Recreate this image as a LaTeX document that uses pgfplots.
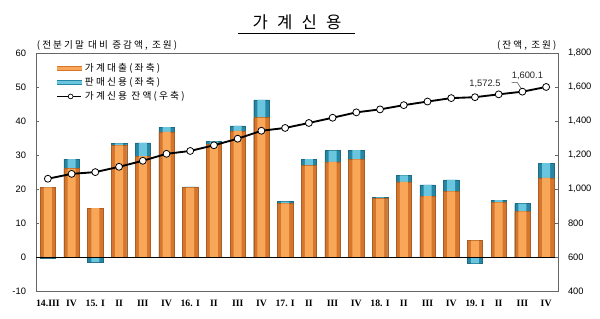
\documentclass[border=0pt]{standalone}
\usepackage{fontspec}
\setmainfont{Liberation Sans}
\newfontfamily\kr[LetterSpace=22]{Noto Sans CJK KR}
\newfontfamily\krt{Noto Sans CJK KR}
\newfontfamily\rom{Liberation Serif}
\usepackage{pgfplots}
\usepackage{pgfplotstable}
\pgfplotsset{compat=1.18}
\definecolor{orgO}{RGB}{214,118,45}
\definecolor{orgI}{RGB}{248,166,88}
\definecolor{bluO}{RGB}{38,135,165}
\definecolor{bluI}{RGB}{105,198,222}
\pgfplotstableread{
x org tot bal
0 20.5 -0.3 1060.3
1 26.0 28.8 1089.0
2 14.4 -1.5 1099.3
3 32.8 33.4 1130.5
4 29.7 33.6 1166.0
5 36.8 38.2 1207.0
6 20.4 20.6 1223.7
7 33.1 34.0 1257.3
8 37.1 38.6 1295.8
9 41.0 46.2 1342.5
10 15.8 16.3 1359.1
11 26.9 28.8 1388.3
12 28.0 31.3 1419.1
13 28.7 31.4 1450.8
14 17.2 17.5 1468.2
15 22.1 24.0 1493.2
16 17.9 21.2 1514.4
17 19.3 22.7 1534.6
18 4.8 -1.9 1540.0
19 16.1 16.7 1556.7
20 13.4 15.7 1572.5
21 23.3 27.6 1600.1
}\data
\begin{document}
\begin{tikzpicture}
\pgfplotsset{
  base/.style={
    scale only axis, width=391.5pt, height=178.5pt,
    xmin=-0.5, xmax=21.5,
    /pgf/number format/assume math mode=true,
    tick label style={font=\fontsize{7}{8}\selectfont},
    tick align=inside, major tick length=2.5pt,
    axis line style={black!60}, tick style={black!60},
  }
}
\begin{axis}[base,
  ymin=-10, ymax=60, ytick={-10,0,...,60},
  ytick pos=left,
  yticklabel style={xshift=-4pt},
  xtick={0,...,21},
  xticklabels={14.III,IV,15. I,II,III,IV,16. I,II,III,IV,17. I,II,III,IV,18. I,II,III,IV,19. I,II,III,IV},
  xticklabel style={font=\rom\bfseries\fontsize{7.3}{8}\selectfont, yshift=-3pt},
  xtick style={draw=none},
]
\addplot[ybar, bar shift=0pt, bar width=11.5pt, draw=bluO!80!black, line width=0.3pt, fill=bluO] table[x=x, y=tot] {\data};
\addplot[ybar, bar shift=0pt, bar width=6pt, draw=none, fill=bluI] table[x=x, y=tot] {\data};
\addplot[ybar, bar shift=0pt, bar width=11.5pt, draw=orgO!80!black, line width=0.3pt, fill=orgO] table[x=x, y=org] {\data};
\addplot[ybar, bar shift=0pt, bar width=6pt, draw=none, fill=orgI] table[x=x, y=org] {\data};
\draw[black, line width=0.6pt] (axis cs:-0.5,0) -- (axis cs:21.5,0);
\coordinate (ll) at (rel axis cs:0,0);
\coordinate (ur) at (rel axis cs:1,1);
\end{axis}
\begin{axis}[base,
  ymin=400, ymax=1800, ytick={400,600,...,1800},
  axis y line*=right, axis x line=none,
  yticklabel style={xshift=4pt},
  /pgf/number format/1000 sep={,},
  legend style={at={(0.036,0.975)}, anchor=north west, draw=none, fill=none,
    font=\kr\fontsize{7.3}{8}\selectfont, row sep=-1pt, inner sep=1pt},
  legend cell align=left,
]
\addlegendimage{legend image code/.code={\fill[orgO] (0pt,-1.7pt) rectangle (18pt,1.7pt); \fill[orgI] (0pt,-0.6pt) rectangle (18pt,0.6pt);}}
\addlegendentry{가계대출(좌축)}
\addlegendimage{legend image code/.code={\fill[bluO] (0pt,-1.7pt) rectangle (18pt,1.7pt); \fill[bluI] (0pt,-0.6pt) rectangle (18pt,0.6pt);}}
\addlegendentry{판매신용(좌축)}
\addplot[black, line width=1.4pt, mark=*, mark size=2.6pt,
  mark options={fill=white, draw=black, line width=0.6pt},
  legend image code/.code={\draw[black, line width=1.4pt] (0pt,0pt) -- (18pt,0pt); \draw[black, fill=white, line width=0.5pt] (10pt,0pt) circle (1.8pt);}]
  table[x=x, y=bal] {\data};
\addlegendentry{가계신용 잔액(우축)}
\node[font=\fontsize{7}{8}\selectfont, text=black!85] at (axis cs:18.42,1617) {1,572.5};
\node[font=\fontsize{7}{8}\selectfont, text=black!85] at (axis cs:20.21,1667) {1,600.1};
\draw[black!70, line width=0.4pt] (axis cs:19.55,1627) -- (axis cs:19.78,1627) -- (axis cs:20.0,1580);
\end{axis}
\node[font=\kr\fontsize{7.2}{8}\selectfont, anchor=south west, inner sep=0pt] at ([shift={(0.5pt,2pt)}]ll |- ur) {(전분기말 대비 증감액, 조원)};
\node[font=\kr\fontsize{7.2}{8}\selectfont, anchor=south east, inner sep=0pt] at ([shift={(-1pt,2pt)}]ur) {(잔액, 조원)};
\node[font=\krt\fontsize{12.5}{14}\selectfont, anchor=base, inner sep=0pt] at ([shift={(195.75pt,196.5pt)}]ll) {가\hspace{0.55em}계\hspace{0.55em}신\hspace{0.55em}용};
\draw[black, line width=0.6pt] ([shift={(151.5pt,193.5pt)}]ll) -- ([shift={(239.25pt,193.5pt)}]ll);
\pgfresetboundingbox
\path ([shift={(-27pt,-21pt)}]ll) rectangle ([shift={(31.5pt,39.75pt)}]ur);
\end{tikzpicture}
\end{document}
